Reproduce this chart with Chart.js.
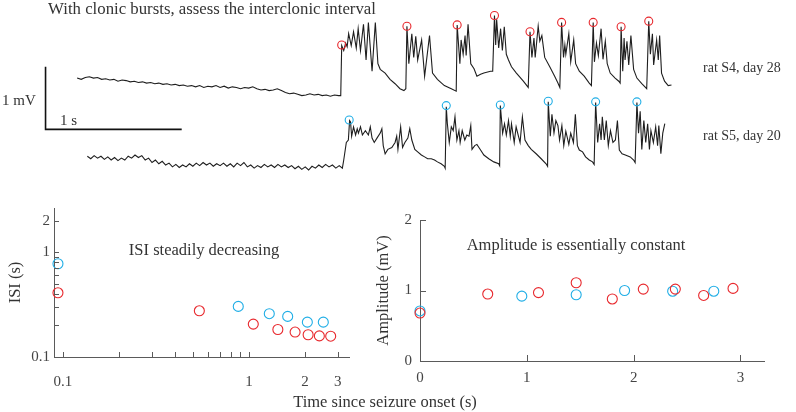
<!DOCTYPE html>
<html><head><meta charset="utf-8">
<script src="https://cdn.jsdelivr.net/npm/chart.js@4.4.1/dist/chart.umd.min.js"></script>
<style>
html,body{margin:0;padding:0;background:#fff;}
body{width:796px;height:412px;position:relative;overflow:hidden;font-family:"Liberation Serif","Times New Roman",serif;color:#333;}
canvas{position:absolute;display:block;}
.t{position:absolute;white-space:nowrap;line-height:1;color:#333;}
.cc{transform:translate(-50%,-50%);}
.lc{transform:translateY(-50%);}
</style></head><body>
<canvas id="topc" width="796" height="195" style="left:0;top:0"></canvas>
<canvas id="isic" width="370" height="200" style="left:0;top:195px"></canvas>
<canvas id="ampc" width="426" height="200" style="left:370px;top:195px"></canvas>

<div class="t cc" style="left:212px;top:9px;font-size:16.8px">With clonic bursts, assess the interclonic interval</div>
<div class="t lc" style="left:2px;top:100px;font-size:15px">1 mV</div>
<div class="t lc" style="left:60px;top:120px;font-size:15px">1 s</div>
<div class="t lc" style="left:703px;top:68px;font-size:14px">rat S4, day 28</div>
<div class="t lc" style="left:703px;top:136px;font-size:14px">rat S5, day 20</div>
<div class="t cc" style="left:204px;top:250px;font-size:16.5px">ISI steadily decreasing</div>
<div class="t cc" style="left:576px;top:245px;font-size:16.5px">Amplitude is essentially constant</div>
<div class="t cc" style="left:385px;top:402px;font-size:16.5px">Time since seizure onset (s)</div>

<script>
// ---------------- DATA ----------------
// Trace 1 (rat S4, day 28): time (ms) and voltage (mV)
const trace1Ms = [0,30,60,90,120,150,180,210,240,270,300,330,360,390,420,450,480,510,540,570,600,630,660,690,720,750,780,810,840,870,900,930,960,990,1020,1050,1080,1110,1140,1170,1200,1230,1260,1290,1320,1350,1380,1410,1440,1470,1500,1530,1560,1590,1620,1650,1680,1710,1740,1770,1800,1830,1860,1890,1920,
1936,1943,1958,1972,1983,1994,2013,2030,2050,2064,2081,2103,2122,2139,2166,2190,2209,2226,2262,2298,2335,2371,2400,2414,
2422,2436,2458,2472,2487,2501,2530,2552,2588,2610,2646,2697,2748,2784,
2791,2811,2820,2835,2849,2857,2871,2891,2915,2936,2963,2987,3036,3052,
3065,3074,3081,3096,3110,3123,3137,3152,3168,3190,3226,3277,3313,
3326,3340,3355,3364,3386,3398,3413,3434,3471,3507,3531,3545,
3558,3572,3582,3589,3611,3625,3647,3661,3688,3724,3761,3777,
3790,3799,3814,3828,3848,3862,3879,3893,3915,3951,3978,3988,
3995,4007,4017,4024,4038,4051,4067,4087,4111,4147,4183,
4198,4210,4225,4234,4256,4268,4278,4292,4314,4341,4365];
const trace1Mv = [0.00,-0.02,0.01,0.02,0.00,0.01,-0.02,-0.01,-0.03,-0.02,-0.05,-0.03,-0.04,-0.06,-0.05,-0.07,-0.06,-0.08,-0.07,-0.09,-0.08,-0.10,-0.09,-0.11,-0.10,-0.12,-0.11,-0.13,-0.12,-0.14,-0.12,-0.15,-0.13,-0.14,-0.12,-0.15,-0.13,-0.16,-0.14,-0.15,-0.17,-0.15,-0.16,-0.14,-0.17,-0.19,-0.18,-0.20,-0.19,-0.17,-0.20,-0.23,-0.25,-0.24,-0.26,-0.28,-0.27,-0.25,-0.27,-0.26,-0.28,-0.27,-0.29,-0.27,-0.28,
-0.28,0.52,0.44,0.56,0.50,0.71,0.52,0.74,0.48,0.79,0.44,0.86,0.29,0.89,0.11,0.89,0.23,0.14,0.08,-0.02,-0.09,-0.17,-0.20,-0.17,
0.83,0.23,0.71,0.33,0.67,0.29,0.61,0.03,0.68,0.08,-0.02,-0.12,-0.17,-0.21,
0.85,0.23,0.61,0.38,0.68,0.36,0.86,0.23,0.15,0.03,0.06,0.08,0.11,0.11,
1.00,0.53,0.94,0.48,0.79,0.44,0.82,0.38,0.29,0.18,0.08,-0.05,-0.15,
0.74,0.33,0.64,0.33,0.83,0.59,0.68,0.33,0.18,0.03,-0.08,-0.15,
0.89,0.33,0.53,0.38,0.71,0.26,0.61,0.23,0.11,0.03,-0.08,-0.12,
0.89,0.26,0.56,0.36,0.79,0.30,0.59,0.23,0.08,0.00,-0.05,-0.08,
0.82,0.11,0.64,0.29,0.59,0.21,0.68,0.14,0.00,-0.09,-0.17,
0.91,0.38,0.71,0.21,0.61,0.29,0.68,0.08,-0.05,-0.12,-0.11];
// Trace 1 burst onsets marked with red circles
const burst1Ms = [1943,2422,2791,3065,3326,3558,3790,3995,4198];
const burst1Mv = [0.53,0.83,0.85,1.00,0.74,0.89,0.89,0.82,0.91];

// Trace 2 (rat S5, day 20): time (ms) and voltage (mV)
const trace2Ms = [75,100,125,150,175,200,225,250,275,300,325,350,375,400,425,450,475,500,525,550,575,600,625,650,675,700,725,750,775,800,825,850,875,900,925,950,975,1000,1025,1050,1075,1100,1125,1150,1175,1200,1225,1250,1275,1300,1325,1350,1375,1400,1425,1450,1475,1500,1525,1550,1575,1600,1625,1650,1675,1700,1725,1750,1775,1800,1825,1850,1875,1900,1925,
1948,1958,1977,1992,2001,2008,2016,2030,2045,2057,2066,2081,2095,2117,2139,2153,2166,2182,2202,2226,2238,2248,2262,2282,2311,2335,2347,2356,2376,2390,2407,2429,2443,2458,2480,2501,2528,2552,2574,2601,2625,2646,2673,2697,2703,
2711,2719,2733,2748,2762,2775,2789,2804,2813,2828,2847,2862,2878,2891,2900,2920,2936,2963,2987,3023,3060,3096,3103,
3108,3125,3139,3152,3168,3181,3190,3210,3224,3241,3253,3270,3289,3313,3335,3371,3408,3444,3455,
3460,3475,3487,3502,3516,3531,3543,3560,3574,3589,3611,3625,3645,3659,3674,3688,3712,3734,3761,3785,3797,
3808,3823,3837,3848,3857,3872,3886,3901,3917,3935,3953,3968,3982,4002,4026,4062,4087,4098,
4111,4123,4135,4147,4162,4176,4190,4203,4214,4232,4249,4263,4272,4287,4301,4316];
const trace2Mv = [0.01,-0.03,0.02,-0.02,0.01,-0.04,0.00,-0.05,-0.01,-0.06,-0.02,-0.05,0.01,-0.02,0.03,-0.01,0.02,-0.05,-0.02,-0.09,-0.05,-0.11,-0.07,-0.13,-0.10,-0.16,-0.12,-0.17,-0.13,-0.16,-0.11,-0.15,-0.10,-0.14,-0.09,-0.13,-0.10,-0.15,-0.11,-0.14,-0.10,-0.15,-0.11,-0.16,-0.10,-0.14,-0.09,-0.16,-0.13,-0.18,-0.14,-0.17,-0.12,-0.16,-0.13,-0.17,-0.12,-0.16,-0.13,-0.17,-0.14,-0.19,-0.15,-0.20,-0.16,-0.21,-0.15,-0.18,-0.13,-0.17,-0.12,-0.16,-0.13,-0.18,-0.14,
-0.18,-0.05,0.23,0.27,0.58,0.56,0.33,0.48,0.35,0.45,0.38,0.48,0.35,0.42,0.35,0.48,0.30,0.23,0.30,0.38,0.45,0.18,0.05,0.12,0.15,0.23,0.33,0.12,0.48,0.15,0.23,0.30,0.45,0.27,0.12,0.08,0.03,0.00,-0.03,-0.03,-0.05,-0.08,-0.11,-0.15,-0.18,
0.80,0.53,0.23,0.48,0.42,0.64,0.27,0.42,0.23,0.42,0.27,0.35,0.33,0.50,0.12,0.18,0.20,0.11,0.03,-0.03,-0.08,-0.11,-0.14,
0.82,0.38,0.53,0.35,0.58,0.33,0.53,0.23,0.48,0.33,0.23,0.64,0.27,0.18,0.12,0.05,-0.03,-0.11,-0.15,
0.88,0.33,0.68,0.38,0.58,0.50,0.27,0.50,0.18,0.41,0.20,0.38,0.23,0.68,0.18,0.11,0.08,0.00,-0.05,-0.08,-0.12,
0.87,0.23,0.53,0.27,0.64,0.27,0.58,0.18,0.42,0.23,0.27,0.58,0.11,0.05,0.03,0.00,-0.05,-0.09,
0.87,0.38,0.73,0.12,0.58,0.23,0.53,0.12,0.42,0.23,0.48,0.18,0.50,0.05,0.38,0.53];
// Trace 2 burst onsets marked with blue circles
const burst2Ms = [1998,2711,3108,3460,3808,4111];
const burst2Mv = [0.59,0.82,0.83,0.89,0.88,0.88];

// Scale bar lengths
const scaleBarMs = [1000];
const scaleBarMv = [1];

// Inter-spike interval (log-log), red = rat S4, blue = rat S5
const isiRedTime = [0.094,0.541,1.055,1.43,1.77,2.08,2.39,2.75];
const isiRedSec  = [0.41,0.276,0.206,0.183,0.173,0.163,0.159,0.158];
const isiBlueTime = [0.094,0.876,1.286,1.615,2.06,2.51];
const isiBlueSec  = [0.776,0.304,0.259,0.244,0.215,0.215];
const isiXTicks = [0.1,0.2,0.3,0.4,0.5,0.6,0.7,0.8,0.9,1,2,3];
const isiXLabels = [0.1,1,2,3];
const isiYTicks = [0.1,0.2,0.3,0.4,0.5,0.6,0.7,0.8,0.9,1,2];
const isiYLabels = [0.1,1,2];

// Amplitude vs time
const ampRedTime = [0,0.634,1.109,1.462,1.80,2.09,2.39,2.655,2.93];
const ampRedMv   = [0.68,0.95,0.97,1.11,0.88,1.02,1.02,0.93,1.03];
const ampBlueTime = [0,0.953,1.462,1.915,2.365,2.75];
const ampBlueMv   = [0.71,0.92,0.94,1.00,0.99,0.99];
const ampXTicks = [0,1,2,3];
const ampYTicks = [0,1,2];

// ---------------- STYLE / LAYOUT ----------------
const RED = '#e8282d', BLUE = '#20aee6', TRACE = '#1e1e1e', AXIS = '#5a5a5a', TICKTXT = '#444';
const FONT = '"Liberation Serif","Times New Roman",serif';
const TRACE2_OFFSET_MV = -1.26;
const SCALEBAR_ANCHOR = {x: -232, y: -0.82};

const pts = (xs, ys, off) => xs.map((x, i) => ({x, y: ys[i] + (off || 0)}));

const inwardTicks = {
  id: 'inwardTicks',
  afterDatasetsDraw(chart, args, opts) {
    const ctx = chart.ctx, ca = chart.chartArea;
    const xs = chart.scales.x, ys = chart.scales.y;
    ctx.save();
    ctx.strokeStyle = opts.color; ctx.lineWidth = 1;
    xs.ticks.forEach(t => {
      const p = Math.round(xs.getPixelForValue(t.value)) + 0.5;
      if (p <= ca.left + 1.5) return;
      ctx.beginPath(); ctx.moveTo(p, ca.bottom); ctx.lineTo(p, ca.bottom - opts.len); ctx.stroke();
    });
    ys.ticks.forEach(t => {
      const p = Math.round(ys.getPixelForValue(t.value)) + 0.5;
      if (p >= ca.bottom - 1.5) return;
      ctx.beginPath(); ctx.moveTo(ca.left, p); ctx.lineTo(ca.left + opts.len, p); ctx.stroke();
    });
    ctx.restore();
  }
};

// ---------------- TOP: EEG TRACES ----------------
const sb = SCALEBAR_ANCHOR;
new Chart(document.getElementById('topc'), {
  type: 'scatter',
  data: {datasets: [
    {data: pts(burst1Ms, burst1Mv), borderColor: RED, backgroundColor: 'rgba(0,0,0,0)', pointRadius: 4, borderWidth: 1.1, order: 0},
    {data: pts(burst2Ms, burst2Mv, TRACE2_OFFSET_MV), borderColor: BLUE, backgroundColor: 'rgba(0,0,0,0)', pointRadius: 4, borderWidth: 1.1, order: 0},
    {data: pts(trace1Ms, trace1Mv), showLine: true, borderColor: TRACE, borderWidth: 1.1, pointRadius: 0, order: 1},
    {data: pts(trace2Ms, trace2Mv, TRACE2_OFFSET_MV), showLine: true, borderColor: TRACE, borderWidth: 1.1, pointRadius: 0, order: 1},
    {data: [{x: sb.x, y: sb.y + scaleBarMv[0]}, {x: sb.x, y: sb.y}, {x: sb.x + scaleBarMs[0], y: sb.y}],
     showLine: true, borderColor: '#111', borderWidth: 1.6, pointRadius: 0, order: 1}
  ]},
  options: {
    responsive: false, animation: false, events: [],
    layout: {padding: 0},
    plugins: {legend: {display: false}, tooltip: {enabled: false}},
    scales: {
      x: {type: 'linear', display: false, min: -529, max: 5242},
      y: {type: 'linear', display: false, min: -1.788, max: 1.167}
    }
  }
});

// ---------------- BOTTOM LEFT: ISI (log-log) ----------------
new Chart(document.getElementById('isic'), {
  type: 'scatter',
  data: {datasets: [
    {data: pts(isiRedTime, isiRedSec), borderColor: RED, backgroundColor: 'rgba(0,0,0,0)', pointRadius: 5, borderWidth: 1.1, clip: false},
    {data: pts(isiBlueTime, isiBlueSec), borderColor: BLUE, backgroundColor: 'rgba(0,0,0,0)', pointRadius: 5, borderWidth: 1.1, clip: false}
  ]},
  plugins: [inwardTicks],
  options: {
    responsive: false, animation: false, events: [],
    layout: {padding: {top: 7, right: 21, left: 0, bottom: 0}},
    plugins: {legend: {display: false}, tooltip: {enabled: false}, inwardTicks: {len: 5, color: AXIS}},
    scales: {
      x: {type: 'logarithmic', min: 0.0895, max: 3.45,
        afterBuildTicks: s => { s.ticks = isiXTicks.map(v => ({value: v})); },
        afterFit: s => { s.height = 38; },
        grid: {display: false, drawTicks: false},
        border: {display: true, color: AXIS, width: 1},
        ticks: {autoSkip: false, maxRotation: 0, padding: 16, color: TICKTXT, font: {family: FONT, size: 15},
          callback: v => isiXLabels.includes(v) ? String(v) : ''}
      },
      y: {type: 'logarithmic', min: 0.1, max: 2.64,
        afterBuildTicks: s => { s.ticks = isiYTicks.map(v => ({value: v})); },
        afterFit: s => { s.width = 54; },
        grid: {display: false, drawTicks: false},
        border: {display: true, color: AXIS, width: 1},
        title: {display: true, text: 'ISI (s)', color: '#333', font: {family: FONT, size: 16.5}, padding: {top: 6, bottom: 0}},
        ticks: {autoSkip: false, padding: 4, color: TICKTXT, font: {family: FONT, size: 15},
          callback: v => isiYLabels.includes(v) ? String(v) : ''}
      }
    }
  }
});

// ---------------- BOTTOM RIGHT: AMPLITUDE ----------------
new Chart(document.getElementById('ampc'), {
  type: 'scatter',
  data: {datasets: [
    {data: pts(ampRedTime, ampRedMv), borderColor: RED, backgroundColor: 'rgba(0,0,0,0)', pointRadius: 5, borderWidth: 1.1, clip: false},
    {data: pts(ampBlueTime, ampBlueMv), borderColor: BLUE, backgroundColor: 'rgba(0,0,0,0)', pointRadius: 5, borderWidth: 1.1, clip: false}
  ]},
  plugins: [inwardTicks],
  options: {
    responsive: false, animation: false, events: [],
    layout: {padding: {top: 25, right: 32, left: 0, bottom: 0}},
    plugins: {legend: {display: false}, tooltip: {enabled: false}, inwardTicks: {len: 6, color: AXIS}},
    scales: {
      x: {type: 'linear', min: 0, max: 3.22,
        afterBuildTicks: s => { s.ticks = ampXTicks.map(v => ({value: v})); },
        afterFit: s => { s.height = 34; },
        grid: {display: false, drawTicks: false},
        border: {display: true, color: AXIS, width: 1},
        ticks: {autoSkip: false, maxRotation: 0, padding: 8, color: TICKTXT, font: {family: FONT, size: 15},
          callback: v => String(v)}
      },
      y: {type: 'linear', min: 0, max: 2,
        afterBuildTicks: s => { s.ticks = ampYTicks.map(v => ({value: v})); },
        afterFit: s => { s.width = 50; },
        grid: {display: false, drawTicks: false},
        border: {display: true, color: AXIS, width: 1},
        title: {display: true, text: 'Amplitude (mV)', color: '#333', font: {family: FONT, size: 16.5}, padding: {top: 4, bottom: 0}},
        ticks: {autoSkip: false, padding: 8, color: TICKTXT, font: {family: FONT, size: 15},
          callback: v => String(v)}
      }
    }
  }
});
</script>
</body></html>
